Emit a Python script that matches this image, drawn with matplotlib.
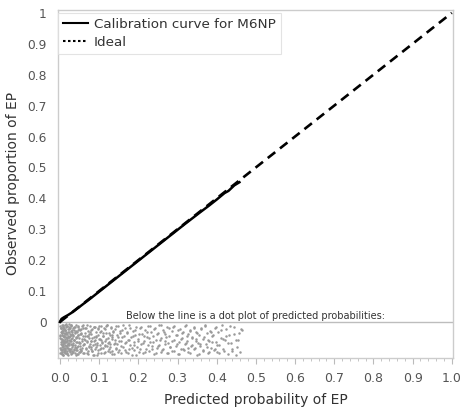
import matplotlib.pyplot as plt
from matplotlib.lines import Line2D
from matplotlib.ticker import MultipleLocator

# calibration curve
calib_x = [0.0, 0.004, 0.01, 0.02, 0.03, 0.05, 0.08, 0.10, 0.13, 0.16, 0.20,
           0.24, 0.28, 0.32, 0.36, 0.38, 0.40, 0.42, 0.43, 0.445, 0.458]
calib_y = [0.0, 0.010, 0.015, 0.022, 0.030, 0.049, 0.078, 0.098, 0.128, 0.158,
           0.198, 0.238, 0.278, 0.318, 0.357, 0.376, 0.396, 0.417, 0.424, 0.442, 0.452]
ideal_x = [0.0, 1.0]
ideal_y = [0.0, 1.0]

# dot plot of predicted probabilities (x) and their vertical jitter (y), three batches
dot_prob = [
    0.000, 0.001, 0.001, 0.002, 0.002, 0.002, 0.003, 0.003, 0.003, 0.004, 0.004, 0.004,
    0.005, 0.005, 0.005, 0.006, 0.006, 0.006, 0.007, 0.007, 0.007, 0.008, 0.008, 0.008,
    0.009, 0.009, 0.009, 0.010, 0.010, 0.010, 0.011, 0.011, 0.011, 0.012, 0.012, 0.012,
    0.013, 0.013, 0.013, 0.014, 0.014, 0.015, 0.015, 0.015, 0.016, 0.016, 0.017, 0.017,
    0.018, 0.018, 0.018, 0.019, 0.019, 0.020, 0.020, 0.021, 0.021, 0.022, 0.022, 0.023,
    0.023, 0.024, 0.024, 0.025, 0.025, 0.026, 0.026, 0.027, 0.027, 0.028, 0.028, 0.029,
    0.029, 0.030,
    0.031, 0.032, 0.033, 0.034, 0.034, 0.035, 0.036, 0.037, 0.038, 0.038, 0.039, 0.040,
    0.041, 0.042, 0.043, 0.043, 0.044, 0.045, 0.046, 0.047, 0.048, 0.049, 0.050, 0.051,
    0.052, 0.053, 0.054, 0.055, 0.056, 0.057, 0.058, 0.060, 0.061, 0.062, 0.063, 0.065,
    0.066, 0.067, 0.068, 0.070, 0.071, 0.072, 0.074, 0.075, 0.076, 0.078, 0.079, 0.080,
    0.082, 0.083, 0.084, 0.086, 0.087, 0.089, 0.090, 0.091, 0.093, 0.094, 0.096, 0.097,
    0.099,
    0.101, 0.103, 0.104, 0.106, 0.108, 0.109, 0.111, 0.113, 0.114, 0.116, 0.118, 0.120,
    0.121, 0.123, 0.125, 0.127, 0.129, 0.130, 0.132, 0.134, 0.136, 0.138, 0.140, 0.141,
    0.143, 0.145, 0.147, 0.149, 0.151, 0.153, 0.155, 0.157, 0.159, 0.161, 0.163, 0.165,
    0.167, 0.169, 0.171, 0.173, 0.175, 0.177, 0.179, 0.181, 0.184, 0.186, 0.188, 0.190,
    0.192, 0.195, 0.197, 0.199,
    0.202, 0.204, 0.207, 0.209, 0.212, 0.214, 0.217, 0.219, 0.222, 0.224, 0.227, 0.229,
    0.232, 0.234, 0.237, 0.239, 0.242, 0.244, 0.247, 0.249, 0.252, 0.254, 0.257, 0.259,
    0.262, 0.264, 0.267, 0.269, 0.272, 0.274, 0.277, 0.279, 0.282, 0.285, 0.287, 0.290,
    0.292, 0.295, 0.298,
    0.301, 0.303, 0.306, 0.308, 0.311, 0.313, 0.316, 0.318, 0.321, 0.323, 0.326, 0.328,
    0.331, 0.333, 0.336, 0.338, 0.341, 0.343, 0.346, 0.348, 0.351, 0.353, 0.356, 0.358,
    0.361, 0.364, 0.366, 0.369, 0.372, 0.374, 0.377, 0.380, 0.383, 0.386, 0.389, 0.392,
    0.395, 0.398, 0.401, 0.404, 0.407, 0.410, 0.414, 0.417, 0.420, 0.424, 0.428, 0.432,
    0.436, 0.440, 0.444, 0.448, 0.452, 0.456, 0.460, 0.465,
]
dot_jitter = [
    -0.012, -0.085, -0.047, -0.101, -0.033, -0.066, -0.019, -0.092, -0.054, -0.075,
    -0.028, -0.104, -0.041, -0.060, -0.009, -0.081, -0.037, -0.097, -0.071, -0.024,
    -0.058, -0.089, -0.015, -0.044, -0.078, -0.030, -0.106, -0.063, -0.050, -0.021,
    -0.094, -0.068, -0.035, -0.083, -0.011, -0.056, -0.099, -0.040, -0.073, -0.026,
    -0.087, -0.048, -0.017, -0.065, -0.102, -0.031, -0.079, -0.052, -0.093, -0.014,
    -0.061, -0.038, -0.084, -0.023, -0.070, -0.107, -0.045, -0.057, -0.008, -0.090,
    -0.034, -0.076, -0.049, -0.098, -0.020, -0.062, -0.086, -0.042, -0.013, -0.072,
    -0.103, -0.029, -0.055, -0.080, -0.039, -0.095, -0.067, -0.018, -0.046, -0.088,
    -0.025, -0.059, -0.100, -0.036, -0.074, -0.010, -0.051, -0.091, -0.064, -0.032,
    -0.082, -0.043, -0.105, -0.016, -0.069, -0.053, -0.096, -0.027, -0.077, -0.040,
    -0.093, -0.022, -0.061, -0.084, -0.047, -0.011, -0.071, -0.099, -0.036, -0.057,
    -0.089, -0.019, -0.066, -0.044, -0.103, -0.030, -0.078, -0.052, -0.014, -0.086,
    -0.063, -0.038, -0.095, -0.024, -0.073, -0.049, -0.107, -0.017, -0.058, -0.081,
    -0.033, -0.068, -0.091, -0.042, -0.012, -0.075, -0.054, -0.100, -0.028, -0.065,
    -0.046, -0.083, -0.020, -0.097, -0.060, -0.035, -0.079, -0.009, -0.052, -0.088,
    -0.041, -0.070, -0.015, -0.094, -0.056, -0.031, -0.104, -0.067, -0.023, -0.085,
    -0.072, -0.013, -0.050, -0.092, -0.037, -0.062, -0.101, -0.026, -0.080, -0.045,
    -0.018, -0.069, -0.098, -0.034, -0.057, -0.087, -0.010, -0.076, -0.048, -0.106,
    -0.029, -0.064, -0.090, -0.043, -0.016, -0.082, -0.055, -0.096, -0.021, -0.071,
    -0.039, -0.102, -0.061, -0.027, -0.086, -0.050, -0.014, -0.093, -0.066, -0.032,
    -0.078, -0.044, -0.105, -0.019, -0.059, -0.084, -0.036, -0.073, -0.011, -0.097,
    -0.053, -0.025, -0.089, -0.063, -0.040, -0.100, -0.017, -0.068, -0.047, -0.081,
    -0.030, -0.095, -0.058, -0.013, -0.077, -0.042, -0.103, -0.065, -0.022, -0.088,
    -0.051, -0.034, -0.092, -0.070, -0.009, -0.060, -0.083, -0.038, -0.099, -0.026,
    -0.074, -0.048, -0.015, -0.086, -0.056, -0.031, -0.107, -0.067, -0.043, -0.079,
    -0.020, -0.094, -0.054, -0.012, -0.071, -0.037, -0.101, -0.062, -0.028, -0.085,
    -0.045, -0.091, -0.018, -0.064, -0.098, -0.033, -0.076, -0.052, -0.010, -0.087,
    -0.059, -0.024, -0.104, -0.041, -0.069, -0.093, -0.016, -0.057, -0.080, -0.035,
    -0.097, -0.027, -0.066, -0.049, -0.084, -0.013, -0.072, -0.039, -0.102, -0.055,
    -0.021, -0.090, -0.061, -0.032, -0.078, -0.046, -0.011, -0.095, -0.068, -0.042,
]
dot_prob_b = [
    0.001, 0.002, 0.003, 0.004, 0.005, 0.006, 0.007, 0.008, 0.009, 0.010, 0.011, 0.012,
    0.013, 0.014, 0.015, 0.016, 0.017, 0.018, 0.019, 0.020, 0.021, 0.022, 0.023, 0.024,
    0.025, 0.026, 0.027, 0.028, 0.029, 0.030, 0.031, 0.032, 0.033, 0.034, 0.035, 0.036,
    0.037, 0.038, 0.039, 0.040, 0.041, 0.042, 0.043, 0.044, 0.045, 0.046, 0.047, 0.048,
    0.049, 0.050,
    0.052, 0.054, 0.056, 0.058, 0.060, 0.062, 0.064, 0.066, 0.068, 0.070, 0.072, 0.074,
    0.076, 0.078, 0.080, 0.082, 0.084, 0.086, 0.088, 0.090, 0.092, 0.094, 0.096, 0.098,
    0.100, 0.102, 0.104, 0.106, 0.108, 0.110, 0.112, 0.114, 0.116, 0.118, 0.120, 0.122,
    0.124, 0.126, 0.128, 0.130, 0.132, 0.134, 0.136, 0.138, 0.140, 0.142, 0.144, 0.146,
    0.148, 0.150,
    0.153, 0.156, 0.159, 0.162, 0.165, 0.168, 0.171, 0.174, 0.177, 0.180, 0.183, 0.186,
    0.189, 0.192, 0.195, 0.198, 0.201, 0.205, 0.208, 0.211, 0.214, 0.218, 0.221, 0.225,
    0.228, 0.231, 0.235, 0.238, 0.241, 0.245, 0.248, 0.251, 0.255, 0.258, 0.261, 0.265,
    0.268, 0.271, 0.275, 0.278, 0.281, 0.285, 0.288, 0.291, 0.295, 0.298, 0.301, 0.305,
    0.308, 0.311, 0.315, 0.318, 0.321, 0.325, 0.328, 0.331, 0.335, 0.338, 0.341, 0.345,
    0.348, 0.351, 0.355, 0.358, 0.361, 0.365, 0.368, 0.371, 0.375, 0.378, 0.381, 0.385,
    0.388, 0.391, 0.395, 0.398, 0.402, 0.406, 0.410, 0.415, 0.419, 0.423, 0.428, 0.433,
    0.438, 0.443, 0.449, 0.455, 0.462,
]
dot_jitter_b = [
    -0.052, -0.019, -0.088, -0.071, -0.036, -0.103, -0.060, -0.014, -0.079, -0.045,
    -0.097, -0.027, -0.066, -0.091, -0.040, -0.008, -0.075, -0.057, -0.105, -0.032,
    -0.083, -0.048, -0.017, -0.069, -0.094, -0.038, -0.062, -0.011, -0.086, -0.053,
    -0.100, -0.025, -0.073, -0.043, -0.090, -0.015, -0.058, -0.081, -0.034, -0.107,
    -0.064, -0.029, -0.092, -0.050, -0.013, -0.077, -0.041, -0.098, -0.022, -0.068,
    -0.087, -0.035, -0.055, -0.102, -0.018, -0.072, -0.046, -0.084, -0.010, -0.061,
    -0.095, -0.039, -0.070, -0.026, -0.082, -0.051, -0.106, -0.016, -0.063, -0.089,
    -0.044, -0.076, -0.021, -0.099, -0.056, -0.033, -0.085, -0.012, -0.067, -0.047,
    -0.101, -0.024, -0.074, -0.054, -0.009, -0.093, -0.037, -0.065, -0.080, -0.020,
    -0.049, -0.104, -0.030, -0.071, -0.059, -0.087, -0.014, -0.042, -0.096, -0.063,
    -0.028, -0.078, -0.050, -0.011, -0.091, -0.066, -0.035, -0.100, -0.057, -0.019,
    -0.083, -0.044, -0.073, -0.025, -0.106, -0.061, -0.039, -0.089, -0.016, -0.069,
    -0.047, -0.097, -0.031, -0.075, -0.053, -0.013, -0.086, -0.064, -0.023, -0.102,
    -0.040, -0.079, -0.058, -0.010, -0.092, -0.034, -0.070, -0.048, -0.099, -0.021,
    -0.081, -0.060, -0.015, -0.094, -0.043, -0.072, -0.027, -0.105, -0.055, -0.037,
    -0.088, -0.012, -0.067, -0.046, -0.096, -0.029, -0.077, -0.052, -0.018, -0.084,
    -0.062, -0.036, -0.103, -0.070, -0.022, -0.090, -0.049, -0.009, -0.080, -0.057,
    -0.098, -0.032, -0.065, -0.041, -0.086, -0.017, -0.074, -0.101, -0.026, -0.054,
    -0.093, -0.045, -0.068, -0.014, -0.087, -0.038, -0.107, -0.059, -0.024, -0.078,
    -0.050, -0.095, -0.011, -0.071, -0.033, -0.084, -0.063, -0.020, -0.099, -0.043,
]
dot_prob_c = [
    0.000, 0.001, 0.002, 0.003, 0.004, 0.005, 0.006, 0.007, 0.008, 0.009, 0.010, 0.011,
    0.012, 0.013, 0.014, 0.015, 0.016, 0.017, 0.018, 0.019, 0.020, 0.022, 0.024, 0.026,
    0.028, 0.030, 0.032, 0.034, 0.036, 0.038, 0.040, 0.042, 0.044, 0.046, 0.048, 0.050,
    0.053, 0.056, 0.059, 0.062, 0.065, 0.068, 0.071, 0.074, 0.077, 0.080, 0.083, 0.086,
    0.089, 0.092, 0.095, 0.098, 0.102, 0.106, 0.110, 0.114, 0.118, 0.122, 0.127, 0.132,
]
dot_jitter_c = [
    -0.041, -0.099, -0.018, -0.072, -0.056, -0.090, -0.030, -0.064, -0.106, -0.011,
    -0.083, -0.047, -0.025, -0.095, -0.061, -0.036, -0.078, -0.014, -0.102, -0.053,
    -0.069, -0.022, -0.087, -0.044, -0.009, -0.074, -0.033, -0.097, -0.058, -0.016,
    -0.085, -0.050, -0.104, -0.027, -0.066, -0.039, -0.092, -0.012, -0.076, -0.055,
    -0.020, -0.100, -0.045, -0.081, -0.031, -0.063, -0.094, -0.015, -0.071, -0.048,
    -0.107, -0.024, -0.088, -0.059, -0.037, -0.079, -0.013, -0.067, -0.096, -0.042,
]

x_ticks = [0.0, 0.1, 0.2, 0.3, 0.4, 0.5, 0.6, 0.7, 0.8, 0.9, 1.0]
x_labels = ["0.0", "0.1", "0.2", "0.3", "0.4", "0.5", "0.6", "0.7", "0.8", "0.9", "1.0"]
y_ticks = [0.0, 0.1, 0.2, 0.3, 0.4, 0.5, 0.6, 0.7, 0.8, 0.9, 1.0]
y_labels = ["0", "0.1", "0.2", "0.3", "0.4", "0.5", "0.6", "0.7", "0.8", "0.9", "1"]

plt.rcParams["font.family"] = ["DejaVu Sans"]

fig = plt.figure(figsize=(4.62, 4.11), dpi=100)
ax = fig.add_axes([0.1255, 0.129, 0.855, 0.847])

batches = [(dot_prob, dot_jitter), (dot_prob_b, dot_jitter_b), (dot_prob_c, dot_jitter_c)]
for probs, jit in batches:
    pairs = list(zip(probs, jit))
    ax.scatter([p for p, _ in pairs], [j for _, j in pairs], s=3.2, color="#9a9a9a",
               linewidths=0, zorder=2)

ax.axhline(0, color="#bdbdbd", lw=1.0, zorder=1)
ax.plot(ideal_x, ideal_y, color="black", lw=1.9, ls=(0, (3.6, 2.3)), zorder=3)
ax.plot(calib_x, calib_y, color="black", lw=1.8, zorder=4)

ax.text(0.5, 0.004, "Below the line is a dot plot of predicted probabilities:",
        ha="center", va="bottom", fontsize=7.0, color="#333333")

ax.set_xlim(-0.005, 1.003)
ax.set_ylim(-0.1165, 1.0097)
ax.set_xticks(x_ticks)
ax.set_xticklabels(x_labels)
ax.set_yticks(y_ticks)
ax.set_yticklabels(y_labels)
ax.xaxis.set_minor_locator(MultipleLocator(0.02))
ax.tick_params(axis="x", which="major", length=4, color="#bbbbbb", labelsize=9,
               labelcolor="#555555", pad=6)
ax.tick_params(axis="x", which="minor", length=2, color="#bbbbbb")
ax.tick_params(axis="y", length=0, labelsize=8.8, labelcolor="#555555", pad=8)
for s in ax.spines.values():
    s.set_color("#cccccc")
    s.set_linewidth(1.0)

ax.set_xlabel("Predicted probability of EP", fontsize=10, color="#333333", labelpad=6)
ax.set_ylabel("Observed proportion of EP", fontsize=10, color="#333333", labelpad=5)

handles = [Line2D([], [], color="black", lw=1.5),
           Line2D([], [], color="black", lw=1.5, ls=(0, (1.2, 1.2)))]
leg = ax.legend(handles, ["Calibration curve for M6NP", "Ideal"], loc="upper left",
                bbox_to_anchor=(0.0, 0.992), fontsize=9.7, frameon=True, fancybox=False,
                borderaxespad=0.0, handlelength=1.8, handletextpad=0.45,
                labelspacing=0.35, borderpad=0.4, labelcolor="#333333")
leg.get_frame().set_edgecolor("#dddddd")
leg.get_frame().set_linewidth(0.8)

fig.savefig("out.png", dpi=100)
